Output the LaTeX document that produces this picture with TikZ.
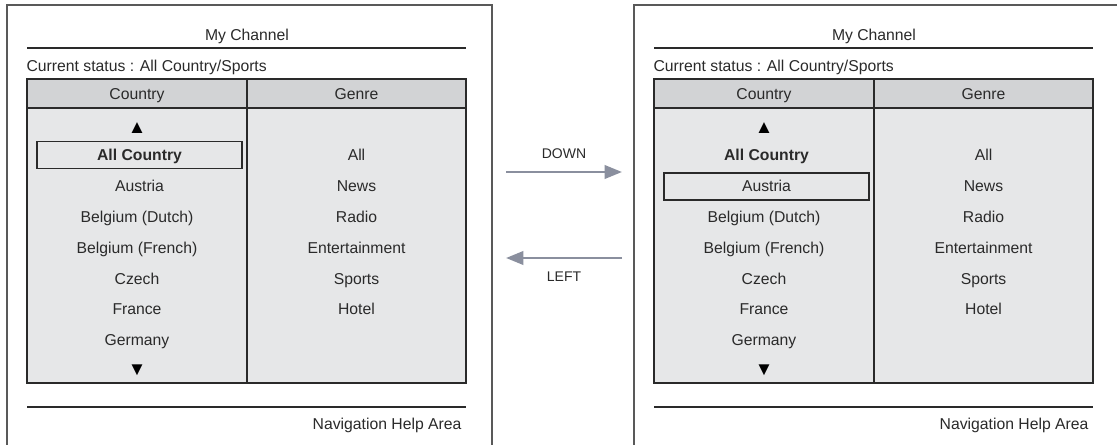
\documentclass[tikz,border=0pt]{standalone}
\usepackage{fontspec}
\setmainfont{Liberation Sans}
\usetikzlibrary{arrows.meta,positioning}
\definecolor{cellgray}{HTML}{E6E7E8}
\definecolor{headgray}{HTML}{D2D3D5}
\definecolor{arrowgray}{HTML}{8A8F9E}
\definecolor{inkgray}{HTML}{2A2A2A}
\newcommand{\uifont}{\fontsize{11.8}{13}\selectfont}

% one menu screen: #1 name prefix, #2 x offset (px), #3 style of All Country row, #4 style of Austria row
\newcommand{\menupanel}[4]{%
\begin{scope}[shift={(#2,0)}]
\draw[frame] (7,447) -- (7,5) -- (492,5) -- (492,447);
\node[lbl] (#1-title) at (247,35) {My Channel};
\draw[rule] (27,48) -- (466,48);
\node[lbl, anchor=west] (#1-status) at (25,66) {Current status : All Country/Sports};
\fill[headgray] (27,79) rectangle (466,108);
\fill[cellgray] (27,108) rectangle (466,383);
\draw[grid] (27,79) rectangle (466,383) (27,108) -- (466,108) (247,79) -- (247,383);
\node[lbl] (#1-country) at (137,94) {Country};
\node[lbl] (#1-genre) at (356.5,94) {Genre};
\node[tri] (#1-up) at (137,128) {▲};
\node[item, font=\uifont\bfseries, #3] (#1-all) at (139.5,155) {All Country};
\node[item, #4] (#1-austria) at (139.5,186.5) {Austria};
\node[lbl] (#1-bedu) at (137,217) {Belgium (Dutch)};
\node[lbl] (#1-befr) at (137,248) {Belgium (French)};
\node[lbl] (#1-cz) at (137,279) {Czech};
\node[lbl] (#1-fr) at (137,309.5) {France};
\node[lbl] (#1-de) at (137,340) {Germany};
\node[tri] (#1-down) at (137,370) {▼};
\node[lbl] (#1-gall) at (356.5,155) {All};
\node[lbl] (#1-news) at (356.5,186.5) {News};
\node[lbl] (#1-radio) at (356.5,217) {Radio};
\node[lbl] (#1-ent) at (356.5,248) {Entertainment};
\node[lbl] (#1-sports) at (356.5,279) {Sports};
\node[lbl] (#1-hotel) at (356.5,309.5) {Hotel};
\draw[rule] (27,407) -- (466,407);
\node[lbl, anchor=east] (#1-help) at (463,424) {Navigation Help Area};
\end{scope}}

\begin{document}
\begin{tikzpicture}[
  x=0.75pt, y=-0.75pt,
  font=\uifont,
  lbl/.style={text=inkgray, inner sep=1pt, text height=9.5pt, text depth=1.8pt},
  tri/.style={text=black, inner sep=0pt, font=\fontsize{14}{14}\selectfont},
  item/.style={lbl, minimum width=153.75pt, minimum height=20.25pt, inner sep=0pt},
  sel/.style={draw=inkgray, line width=0.9pt},
  frame/.style={draw=black!65, line width=1.1pt},
  rule/.style={draw=inkgray, line width=1.5pt},
  grid/.style={draw=inkgray, line width=0.9pt},
  key/.style={arrowgray, line width=2pt, -{Triangle[length=13pt, width=10pt]}},
  keylbl/.style={text=inkgray, font=\fontsize{10.5}{12}\selectfont}
]
\useasboundingbox[fill=white] (0,0) rectangle (1117,445);

\menupanel{L}{0}{sel}{}
\menupanel{R}{627}{}{sel}

% key presses between the two screens
\coordinate (downfrom) at (506,172);
\coordinate (downto) at (622,172);
\coordinate (leftfrom) at (622,258);
\coordinate (leftto) at (506,258);
\draw[key] (downfrom) -- node[keylbl, above=6pt] (down) {DOWN} (downto);
\draw[key] (leftfrom) -- node[keylbl, below=6pt] (left) {LEFT} (leftto);
\end{tikzpicture}
\end{document}
